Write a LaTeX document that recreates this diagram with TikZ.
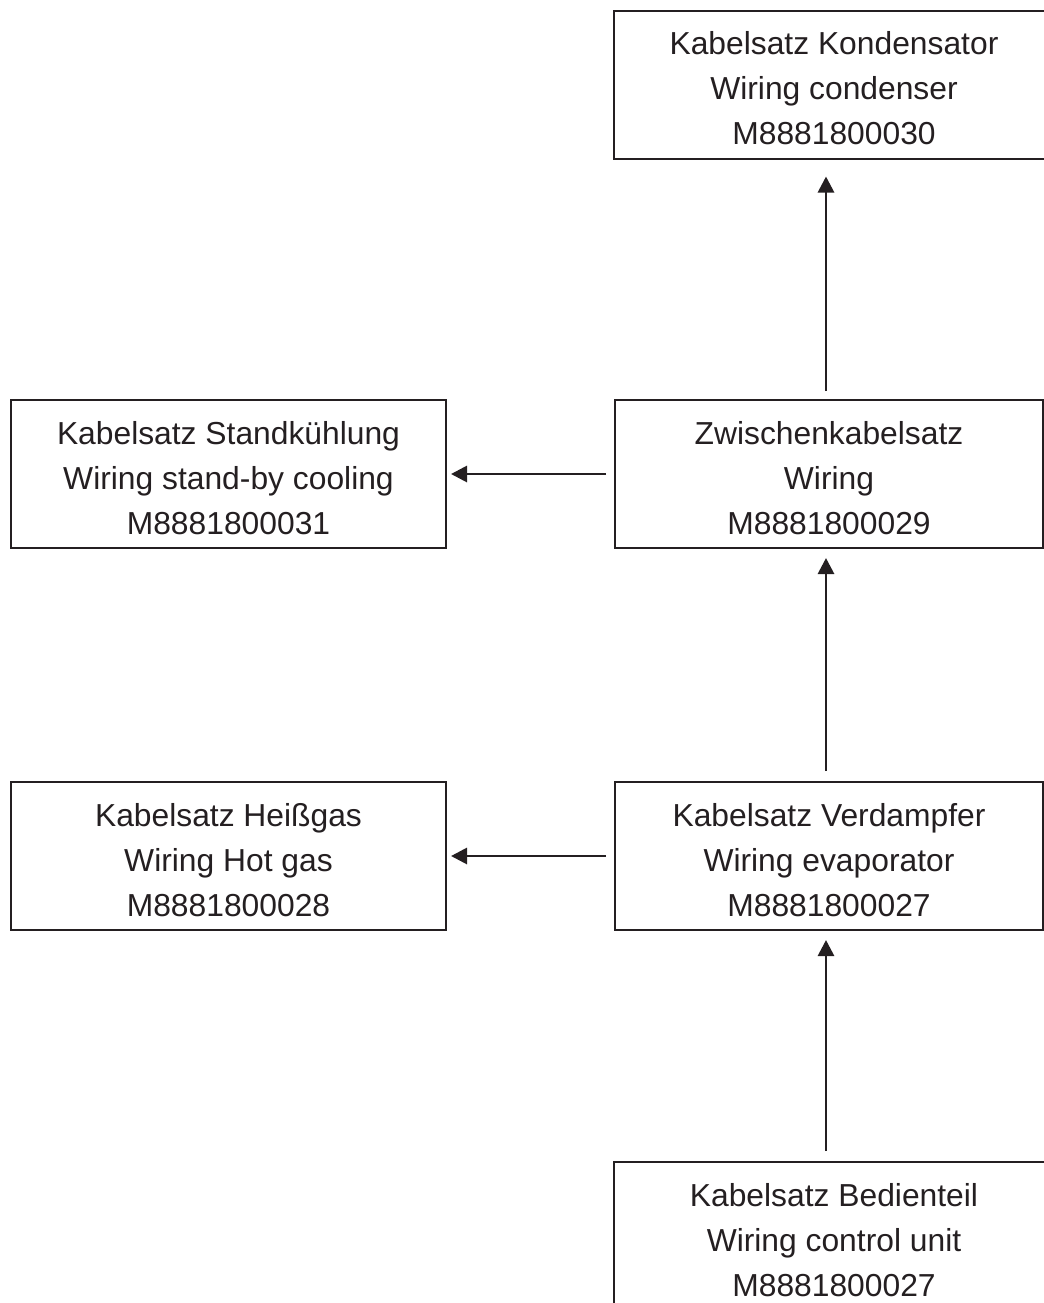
\documentclass[tikz,border=0pt]{standalone}
\usepackage{fontspec}
\setmainfont{Liberation Sans}
\usetikzlibrary{arrows.meta}
\definecolor{ink}{rgb}{0.14,0.12,0.13}
\begin{document}
\begin{tikzpicture}[x=0.5pt,y=-0.5pt,
  kabel/.style={draw,line width=1pt,align=center,minimum height=74pt,
    inner sep=0pt,text height=60pt,text depth=0pt,
    font=\fontsize{15.9pt}{22.5pt}\selectfont},
  pfeil/.style={line width=1.4pt,-{Triangle[length=8pt,width=8pt]},
    shorten <=5pt,shorten >=4.5pt}
]
\useasboundingbox (0,0) rectangle (1044,1303);
\clip (0,0) rectangle (1044,1303);
\begin{scope}[color=ink]
% boxes
\node[kabel,minimum width=220pt] (cond) at (834,84.5)
  {Kabelsatz Kondensator\\Wiring condenser\\M8881800030};
\node[kabel,minimum width=214pt] (zw) at (829,474)
  {Zwischenkabelsatz\\Wiring\\M8881800029};
\node[kabel,minimum width=217.5pt] (stand) at (228.5,474)
  {Kabelsatz Standk\"uhlung\\Wiring stand-by cooling\\M8881800031};
\node[kabel,minimum width=214pt] (verd) at (829,856)
  {Kabelsatz Verdampfer\\Wiring evaporator\\M8881800027};
\node[kabel,minimum width=217.5pt] (heiss) at (228.5,856)
  {Kabelsatz Hei\ss gas\\Wiring Hot gas\\M8881800028};
\node[kabel,minimum width=220pt] (bed) at (834,1236)
  {Kabelsatz Bedienteil\\Wiring control unit\\M8881800027};

% arrows
\draw[pfeil,shorten <=4pt,shorten >=8.5pt] ([xshift=-1.5pt]zw.north) -- ([xshift=-4pt]cond.south);
\draw[pfeil] ([xshift=-1.5pt]verd.north) -- ([xshift=-1.5pt]zw.south);
\draw[pfeil] ([xshift=-4pt]bed.north) -- ([xshift=-1.5pt]verd.south);
\draw[pfeil,shorten <=4pt,shorten >=2pt] (zw.west) -- (stand.east);
\draw[pfeil,shorten <=4pt,shorten >=2pt] (verd.west) -- (heiss.east);
\end{scope}
\end{tikzpicture}
\end{document}
